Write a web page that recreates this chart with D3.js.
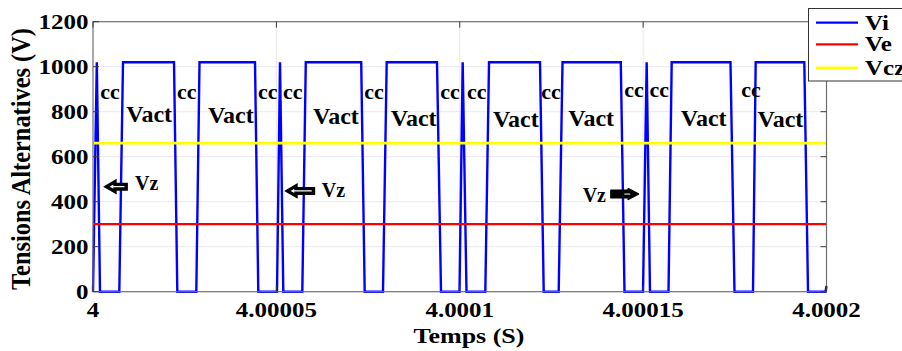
<!DOCTYPE html>
<html>
<head>
<meta charset="utf-8">
<script src="https://cdn.jsdelivr.net/npm/d3@7"></script>
<style>
  body { margin: 0; background: #fff; }
  text { font-family: "Liberation Serif", "Times New Roman", serif; font-weight: bold; fill: #000; }
</style>
</head>
<body>
<svg id="chart" width="902" height="351"></svg>
<script>
// time axis starts at 4 s, waveform times read in microseconds after that
var t0 = 4
var xTicks = [4, 4.00005, 4.0001, 4.00015, 4.0002]
var xTickLabels = ["4", "4.00005", "4.0001", "4.00015", "4.0002"]
var yTicks = [0, 200, 400, 600, 800, 1000, 1200]

// Vi : inverter voltage (us after 4 s, volts)
var viTimeUs = [0, 1.04, 1.91, 7.17, 8.18, 22.09, 22.99, 28.17, 29.04, 44.17, 45.07, 50.17,
  50.99, 51.89, 57.07, 58.02, 73.13, 74.08, 79.07, 80.08, 93.80, 94.89, 99.93,
  100.80, 101.84, 106.97, 107.98, 121.88, 122.89, 126.98, 128.02, 143.91, 144.92, 149.97,
  150.97, 151.87, 156.92, 157.79, 173.82, 174.91, 179.96, 180.69, 193.95, 194.96, 199.73, 200]
var viVolt = [0, 1020, 0, 0, 1020, 1020, 0, 0, 1020, 1020, 0, 0,
  1020, 0, 0, 1020, 1020, 0, 0, 1020, 1020, 0, 0,
  1020, 0, 0, 1020, 1020, 0, 0, 1020, 1020, 0, 0,
  1020, 0, 0, 1020, 1020, 0, 0, 1020, 1020, 0, 0, 25]

// Ve and Vcz are flat
var veTimeUs = [0, 200], veVolt = [300, 300]
var vczTimeUs = [0, 200], vczVolt = [660, 660]

// annotations (us, volts)
var ccTimeUs = [4.64, 25.55, 47.63, 54.45, 76.62, 97.34, 104.62, 124.88, 147.51, 154.41, 179.42]
var ccVolt = [856, 856, 856, 856, 856, 856, 856, 856, 866, 866, 866]
var vactTimeUs = [15.32, 37.57, 66.23, 87.44, 115.28, 135.84, 166.52, 187.43]
var vactVolt = [756, 748, 745, 736, 733, 736, 736, 731]
var vzTextUs = [11.45, 62.36, 133.52]
var vzTextVolt = [452, 422, 400]
var vzArrowTip = [3.27, 52.62, 148.96]
var vzArrowTail = [9.46, 60.53, 140.97]
var vzArrowVolt = [467, 448, 434]

var legendNames = ["Vi", "Ve", "Vcz"]
var colors = ["#0000ff", "#ff0000", "#ffff00"]

var svg = d3.select("#chart")
var plotL = 93, plotR = 826.5, plotT = 21.7, plotB = 291.7

var x = d3.scaleLinear().domain([4, 4.0002]).range([plotL, plotR])
var y = d3.scaleLinear().domain([0, 1200]).range([plotB, plotT])
var us = function(v){ return t0 + v * 1e-6 }

// grid
svg.append("g").selectAll("line").data(yTicks.slice(1, -1)).enter().append("line")
  .attr("x1", plotL).attr("x2", plotR)
  .attr("y1", function(d){ return y(d) }).attr("y2", function(d){ return y(d) })
  .attr("stroke", "#e9e9e9").attr("stroke-width", 1)
svg.append("g").selectAll("line").data(xTicks.slice(1, -1)).enter().append("line")
  .attr("y1", plotT).attr("y2", plotB)
  .attr("x1", function(d){ return x(d) }).attr("x2", function(d){ return x(d) })
  .attr("stroke", "#e9e9e9").attr("stroke-width", 1)

// series
var line = d3.line().x(function(d){ return x(d[0]) }).y(function(d){ return y(d[1]) })
var series = [
  [viTimeUs, viVolt, 2.4],
  [veTimeUs, veVolt, 2.2],
  [vczTimeUs, vczVolt, 2.8]
]
series.forEach(function(s, i){
  var pts = s[0].map(function(t, j){ return [us(t), s[1][j]] })
  svg.append("path").datum(pts)
    .attr("d", line)
    .attr("fill", "none")
    .attr("stroke", colors[i])
    .attr("stroke-width", s[2])
    .attr("stroke-linejoin", "miter")
})

// box and inward ticks
var axisColor = "#6f6f6f"
svg.append("rect").attr("x", plotL).attr("y", plotT)
  .attr("width", plotR - plotL).attr("height", plotB - plotT)
  .attr("fill", "none").attr("stroke", axisColor).attr("stroke-width", 1.2)
var ticks = svg.append("g").attr("stroke", "#3a3a3a").attr("stroke-width", 1)
yTicks.forEach(function(d){
  ticks.append("line").attr("x1", plotL).attr("x2", plotL + 6).attr("y1", y(d)).attr("y2", y(d))
  ticks.append("line").attr("x1", plotR).attr("x2", plotR - 6).attr("y1", y(d)).attr("y2", y(d))
})
xTicks.forEach(function(d){
  ticks.append("line").attr("x1", x(d)).attr("x2", x(d)).attr("y1", plotB).attr("y2", plotB - 6)
  ticks.append("line").attr("x1", x(d)).attr("x2", x(d)).attr("y1", plotT).attr("y2", plotT + 6)
})

// squashed text like the resized figure
var label = function(px, py, str, size, anchor, sy){
  return svg.append("text")
    .attr("transform", "translate(" + px + "," + py + ") scale(1," + sy + ")")
    .attr("text-anchor", anchor)
    .style("font-size", size + "px")
    .text(str)
}

yTicks.forEach(function(d){
  label(88.5, y(d) + 7.5, d, 25, "end", 0.84)
})
xTicks.forEach(function(d, i){
  label(x(d), 316.5, xTickLabels[i], 25, "middle", 0.84)
})
label(469, 343, "Temps (S)", 26, "middle", 0.82)

svg.append("text")
  .attr("transform", "translate(30,159) rotate(-90) scale(0.92,1)")
  .attr("text-anchor", "middle")
  .style("font-size", "26.5px")
  .text("Tensions Alternatives (V)")

// annotations
ccTimeUs.forEach(function(t, i){
  svg.append("text").attr("x", x(us(t))).attr("y", y(ccVolt[i]))
    .attr("text-anchor", "middle").style("font-size", "22px").text("cc")
})
vactTimeUs.forEach(function(t, i){
  svg.append("text").attr("x", x(us(t))).attr("y", y(vactVolt[i]))
    .attr("text-anchor", "middle").style("font-size", "24px").text("Vact")
})
vzTextUs.forEach(function(t, i){
  svg.append("text").attr("x", x(us(t))).attr("y", y(vzTextVolt[i]))
    .style("font-size", "20px").text("Vz")
})

var arrowPts = function(tip, tail, cy, headLen, headHalf, shaftHalf){
  var dir = tail > tip ? 1 : -1
  var hb = tip + dir * headLen
  return [[tip, cy], [hb, cy - headHalf], [hb, cy - shaftHalf], [tail, cy - shaftHalf],
    [tail, cy + shaftHalf], [hb, cy + shaftHalf], [hb, cy + headHalf]]
}
vzArrowTip.forEach(function(t, i){
  var tip = x(us(t)), tail = x(us(vzArrowTail[i])), cy = y(vzArrowVolt[i])
  var dir = tail > tip ? 1 : -1
  if (i < 2) {
    svg.append("polygon")
      .attr("points", arrowPts(tip + dir * 1.5, tail - dir * 1.5, cy, 8.5, 5, 2.3).join(" "))
      .attr("fill", "#fff").attr("stroke", "#000").attr("stroke-width", 3.4)
      .attr("stroke-linejoin", "miter")
  } else {
    svg.append("polygon")
      .attr("points", arrowPts(tip - 1, tail + 1, cy, 10, 5.2, 3.6).join(" "))
      .attr("fill", "#000").attr("stroke", "#000").attr("stroke-width", 1.8)
      .attr("stroke-linejoin", "round")
    svg.append("line")
      .attr("x1", tip - 15).attr("x2", tip - 9).attr("y1", cy).attr("y2", cy)
      .attr("stroke", "#fff").attr("stroke-width", 1)
  }
})

// legend
var lg = svg.append("g")
lg.append("rect").attr("x", 808.5).attr("y", 8.5).attr("width", 110).attr("height", 72.5)
  .attr("fill", "#fff").attr("stroke", "#333").attr("stroke-width", 1)
var legendY = [22.7, 44.3, 67.7]
legendNames.forEach(function(n, i){
  lg.append("line").attr("x1", 816).attr("x2", 858)
    .attr("y1", legendY[i]).attr("y2", legendY[i])
    .attr("stroke", colors[i]).attr("stroke-width", i == 2 ? 2.6 : 2.2)
  label(865, legendY[i] + 6.8, n, 25, "start", 0.86)
})
</script>
</body>
</html>
